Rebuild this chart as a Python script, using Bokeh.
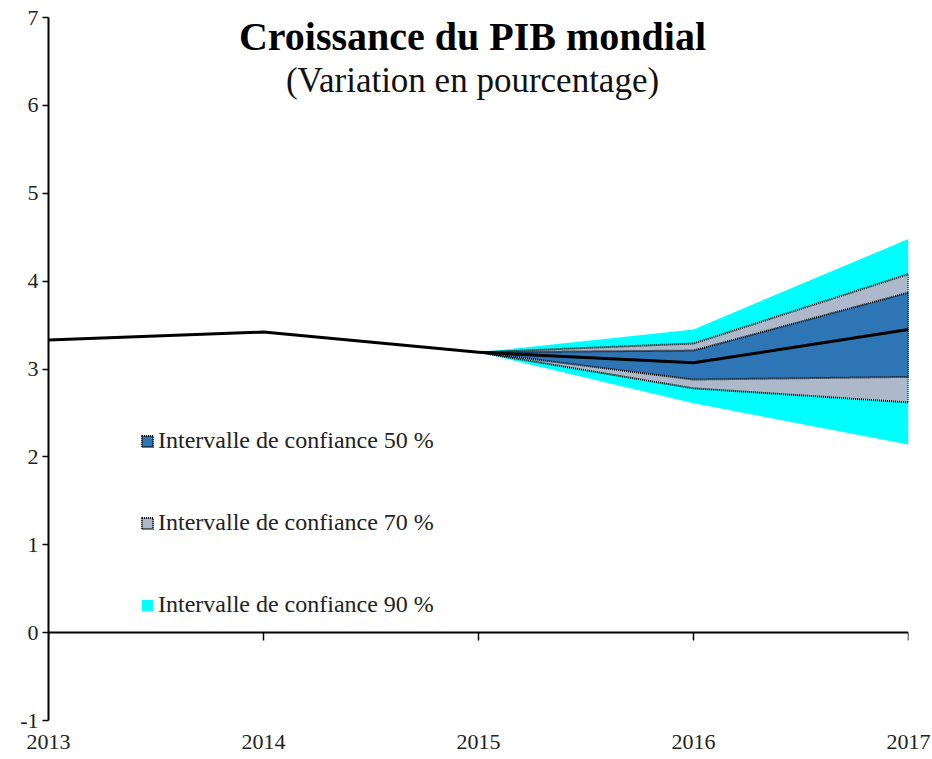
from bokeh.plotting import figure
from bokeh.models import (Range1d, LinearAxis, FixedTicker, Legend, LegendItem, Label)
from bokeh.embed import file_html
from bokeh.resources import INLINE

# ---- data ----
hist_years = [2013, 2014, 2015]
hist_values = [3.33, 3.42, 3.19]
proj_years = [2015, 2016, 2017]
proj_values = [3.19, 3.07, 3.45]
lo50 = [3.19, 2.88, 2.91]
hi50 = [3.19, 3.21, 3.87]
lo70 = [3.19, 2.78, 2.62]
hi70 = [3.19, 3.29, 4.08]
lo90 = [3.19, 2.61, 2.14]
hi90 = [3.19, 3.45, 4.48]
year_ticks = [2013, 2014, 2015, 2016, 2017]
y_ticks = [-1, 0, 1, 2, 3, 4, 5, 6, 7]
title_text = "Croissance du PIB mondial"
subtitle_text = "(Variation en pourcentage)"
legend_labels = ["Intervalle de confiance 50 %", "Intervalle de confiance 70 %",
                 "Intervalle de confiance 90 %"]

FONT = "Liberation Serif"

p = figure(frame_width=860, frame_height=703,
           x_range=Range1d(year_ticks[0], year_ticks[-1]),
           y_range=Range1d(y_ticks[0], y_ticks[-1]),
           output_backend="svg", toolbar_location=None,
           x_axis_location=None, y_axis_location=None,
           min_border_left=48, min_border_right=24, min_border_top=17,
           min_border_bottom=39)
p.grid.visible = False
p.outline_line_color = None
p.background_fill_color = "white"

# bands
r90 = p.varea(x=proj_years, y1=lo90, y2=hi90, fill_color="#00FFFF")
r70 = p.patch(x=proj_years + proj_years[::-1], y=hi70 + lo70[::-1],
              fill_color="#ADB9CA", line_color="black", line_dash="1 1", line_width=2)
r50 = p.patch(x=proj_years + proj_years[::-1], y=hi50 + lo50[::-1],
              fill_color="#2E75B6", line_color="black", line_dash="1 1", line_width=2)

# central line
p.line(hist_years, hist_values, line_color="black", line_width=3)
p.line(proj_years, proj_values, line_color="black", line_width=3)

# y axis
yax = LinearAxis(ticker=FixedTicker(ticks=y_ticks, minor_ticks=[]))
yax.axis_line_width = 2
yax.axis_line_color = "black"
yax.major_tick_out = 6
yax.major_tick_in = 0
yax.major_tick_line_width = 1.5
yax.major_label_text_font = FONT
yax.major_label_text_font_size = "22px"
yax.major_label_text_color = "#222222"
yax.major_label_standoff = 4
yax.major_label_overrides = {-1: "-1"}
p.add_layout(yax, "left")

# zero line axis with ticks (no labels)
zax = LinearAxis(ticker=FixedTicker(ticks=year_ticks, minor_ticks=[]), fixed_location=0)
zax.axis_line_width = 2
zax.axis_line_color = "black"
zax.major_tick_out = 8
zax.major_tick_in = 0
zax.major_tick_line_width = 1.5
zax.major_label_overrides = {t: "" for t in year_ticks}
zax.major_label_text_font_size = "1px"
p.add_layout(zax, "below")

# year labels axis
xax = LinearAxis(ticker=FixedTicker(ticks=year_ticks, minor_ticks=[]))
xax.axis_line_color = None
xax.major_tick_line_color = None
xax.major_tick_out = 0
xax.major_tick_in = 0
xax.major_label_text_font = FONT
xax.major_label_text_font_size = "22px"
xax.major_label_text_color = "#222222"
xax.major_label_standoff = 14
p.add_layout(xax, "below")

legend = Legend(items=[LegendItem(label=legend_labels[0], renderers=[r50]),
                       LegendItem(label=legend_labels[1], renderers=[r70]),
                       LegendItem(label=legend_labels[2], renderers=[r90])],
                location=(92, 102))
legend.background_fill_alpha = 0
legend.border_line_color = None
legend.padding = 0
legend.margin = 0
legend.glyph_width = 14
legend.glyph_height = 14
legend.label_standoff = 4
legend.spacing = 55
legend.label_text_font = FONT
legend.label_text_font_size = "24px"
legend.label_text_color = "#222222"
p.add_layout(legend, "center")

mid_x = (year_ticks[0] + year_ticks[-1]) / 2
p.add_layout(Label(x=mid_x, y=y_ticks[-1], x_offset=-6, y_offset=-19, text=title_text,
                   text_font=FONT, text_font_size="40px", text_font_style="bold",
                   text_align="center", text_baseline="middle", text_color="black"))
p.add_layout(Label(x=mid_x, y=y_ticks[-1], x_offset=-6, y_offset=-63, text=subtitle_text,
                   text_font=FONT, text_font_size="35px",
                   text_align="center", text_baseline="middle", text_color="#111111"))

open("out.html", "w").write(file_html(p, INLINE))
